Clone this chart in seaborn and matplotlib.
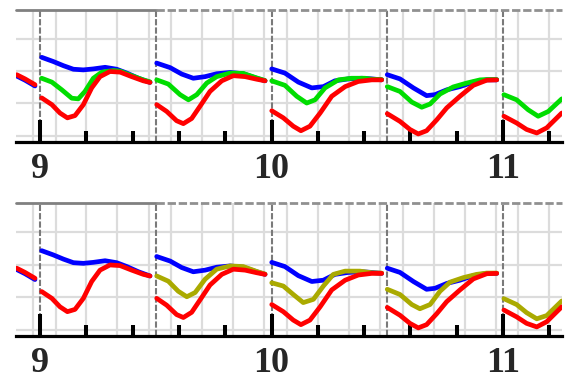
import numpy as np
import pandas as pd
import matplotlib.pyplot as plt
import seaborn as sns
from matplotlib.ticker import MultipleLocator

# curve samples (x in days, y in grid units)
# each half day is its own piece of curve
blue_x = [8.899, 8.935, 8.978,
          9.007, 9.057, 9.101, 9.144, 9.187, 9.230, 9.281, 9.331, 9.375, 9.425, 9.475,
          9.504, 9.562, 9.612, 9.662, 9.713, 9.763, 9.821, 9.878, 9.936, 9.972,
          10.001, 10.058, 10.116, 10.174, 10.224, 10.274, 10.332, 10.390, 10.433, 10.476,
          10.500, 10.555, 10.613, 10.670, 10.706, 10.757, 10.814, 10.872, 10.930, 10.973]
blue_y = [1.85, 1.72, 1.54,
          2.43, 2.30, 2.17, 2.06, 2.04, 2.07, 2.12, 2.06, 1.94, 1.78, 1.65,
          2.25, 2.11, 1.91, 1.78, 1.83, 1.92, 1.96, 1.92, 1.78, 1.70,
          2.07, 1.94, 1.66, 1.48, 1.52, 1.70, 1.76, 1.78, 1.76, 1.73,
          1.89, 1.76, 1.48, 1.24, 1.27, 1.42, 1.52, 1.66, 1.73, 1.73]

green_x = [9.007, 9.051, 9.094, 9.137, 9.165, 9.194, 9.230, 9.267, 9.317, 9.346, 9.396, 9.446, 9.475,
           9.504, 9.554, 9.605, 9.641, 9.677, 9.720, 9.763, 9.821, 9.878, 9.936, 9.972,
           10.001, 10.058, 10.109, 10.152, 10.188, 10.231, 10.289, 10.346, 10.404, 10.433, 10.476,
           10.500, 10.555, 10.606, 10.649, 10.685, 10.728, 10.785, 10.843, 10.901, 10.930, 10.973,
           11.004, 11.059, 11.109, 11.152, 11.196, 11.254]
green_y = [1.78, 1.66, 1.42, 1.16, 1.14, 1.37, 1.78, 1.97, 2.02, 2.00, 1.86, 1.73, 1.67,
           1.73, 1.60, 1.27, 1.11, 1.27, 1.63, 1.83, 1.94, 1.93, 1.79, 1.71,
           1.70, 1.56, 1.22, 1.01, 1.11, 1.48, 1.73, 1.78, 1.78, 1.75, 1.74,
           1.52, 1.37, 1.04, 0.88, 0.98, 1.29, 1.51, 1.63, 1.73, 1.74, 1.74,
           1.27, 1.11, 0.80, 0.60, 0.75, 1.14]

red_x = [8.899, 8.935, 8.978,
         9.007, 9.051, 9.086, 9.118, 9.151, 9.187, 9.223, 9.259, 9.302, 9.346, 9.396, 9.446, 9.475,
         9.504, 9.547, 9.590, 9.619, 9.655, 9.691, 9.734, 9.785, 9.835, 9.886, 9.936, 9.972,
         10.001, 10.051, 10.094, 10.127, 10.166, 10.210, 10.260, 10.318, 10.375, 10.433, 10.476,
         10.500, 10.555, 10.598, 10.634, 10.670, 10.714, 10.757, 10.814, 10.872, 10.930, 10.973,
         11.004, 11.059, 11.102, 11.146, 11.189, 11.254]
red_y = [1.89, 1.76, 1.58,
         1.17, 0.96, 0.70, 0.55, 0.62, 0.96, 1.48, 1.83, 1.99, 1.97, 1.83, 1.70, 1.65,
         0.96, 0.75, 0.46, 0.37, 0.53, 0.91, 1.37, 1.70, 1.86, 1.83, 1.75, 1.70,
         0.77, 0.55, 0.29, 0.15, 0.29, 0.70, 1.22, 1.52, 1.68, 1.73, 1.73,
         0.68, 0.44, 0.19, 0.05, 0.15, 0.49, 0.86, 1.22, 1.56, 1.72, 1.73,
         0.60, 0.39, 0.19, 0.08, 0.24, 0.70]

olive_x = [9.504, 9.554, 9.597, 9.634, 9.670, 9.713, 9.763, 9.821, 9.878, 9.936, 9.972,
           10.001, 10.051, 10.094, 10.137, 10.181, 10.224, 10.267, 10.318, 10.382, 10.433, 10.476,
           10.500, 10.555, 10.606, 10.641, 10.685, 10.728, 10.771, 10.829, 10.886, 10.930, 10.973,
           11.004, 11.059, 11.102, 11.146, 11.189, 11.254]
olive_y = [1.65, 1.49, 1.18, 1.01, 1.14, 1.55, 1.86, 1.96, 1.94, 1.79, 1.71,
           1.44, 1.34, 1.08, 0.83, 0.93, 1.34, 1.70, 1.80, 1.80, 1.75, 1.74,
           1.24, 1.08, 0.77, 0.64, 0.77, 1.18, 1.46, 1.60, 1.70, 1.74, 1.74,
           0.95, 0.77, 0.52, 0.33, 0.43, 0.88]

day_ticks = [9, 10, 11]
day_labels = ["9", "10", "11"]

sns.set_style("white")

fig = plt.figure(figsize=(5.8, 3.83), dpi=100)
ax1 = fig.add_axes([16 / 580, 1 - 142 / 383, 546 / 580, 132 / 383])
ax2 = fig.add_axes([16 / 580, 1 - 336 / 383, 546 / 580, 133 / 383])

panels = [
    (ax1, [(blue_x, blue_y, "#0000ff"), (green_x, green_y, "#00dd00"), (red_x, red_y, "#ff0000")]),
    (ax2, [(blue_x, blue_y, "#0000ff"), (olive_x, olive_y, "#aaaa00"), (red_x, red_y, "#ff0000")]),
]

for ax, series in panels:
    ax.set_axisbelow(False)
    ax.set_xlim(8.896, 11.255)
    ax.set_ylim(-0.2, 3.9)

    # light grid
    for y in [0, 1, 2, 3]:
        ax.axhline(y, color="#dcdcdc", lw=1.6, zorder=0)
    for h in np.arange(8.5, 11.5, 0.5):
        for off in [0.067, 0.200, 0.334, 0.469]:
            ax.axvline(h + off, color="#dcdcdc", lw=1.6, zorder=0)
    # half-day separators
    for h in np.arange(9, 11.5, 0.5):
        ax.axvline(h, color="#7a7a7a", lw=1.5, ls=(0, (3, 1)), zorder=1)
    # top border
    ax.axhline(3.9, xmin=0, xmax=0.256, color="#808080", lw=2, zorder=1, clip_on=False)
    ax.axhline(3.9, xmin=0.256, xmax=1, color="#909090", lw=2, ls=(0, (3, 1)), zorder=1, clip_on=False)

    for xs, ys, color in series:
        df = pd.DataFrame({"x": xs, "y": ys})
        df["seg"] = np.floor(df["x"] * 2).astype(int)
        sns.lineplot(data=df, x="x", y="y", units="seg", estimator=None,
                     color=color, lw=3.4, ax=ax, legend=False, zorder=3,
                     solid_joinstyle="round")

    ax.set_xlabel("")
    ax.set_ylabel("")
    ax.set_yticks([])
    ax.set_xticks(day_ticks)
    ax.set_xticklabels(day_labels, fontfamily="Liberation Serif", fontweight="bold", fontsize=26)
    ax.xaxis.set_minor_locator(MultipleLocator(0.2))
    ax.tick_params(axis="x", which="major", direction="in", length=16, width=2.9,
                   color="black", pad=8, bottom=True)
    ax.tick_params(axis="x", which="minor", direction="in", length=8, width=2.9,
                   color="black", bottom=True)
    for side in ["left", "right", "top"]:
        ax.spines[side].set_visible(False)
    ax.spines["bottom"].set_linewidth(2.3)
    ax.spines["bottom"].set_color("black")
    ax.spines["bottom"].set_zorder(4)

fig.savefig("out.png", dpi=100)
